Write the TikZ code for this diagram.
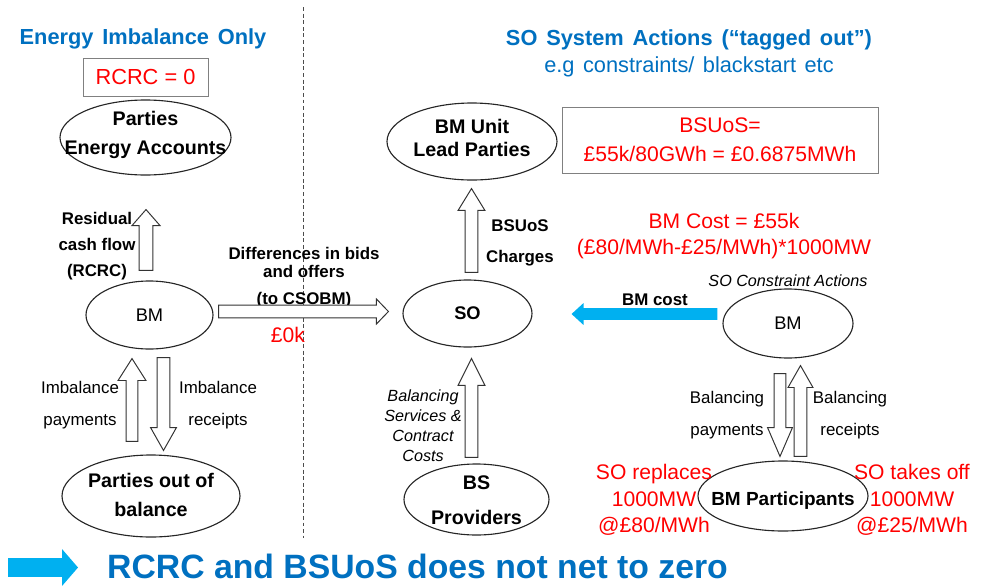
\documentclass[tikz,border=0pt]{standalone}
\usepackage{fontspec}
\setmainfont{Liberation Sans}
\usetikzlibrary{shapes.geometric,calc}

\definecolor{hdrblue}{RGB}{0,112,192}
\definecolor{arrcyan}{RGB}{0,176,240}
\definecolor{rcred}{RGB}{255,0,0}

\newcommand{\fs}[2]{\fontsize{#1}{#2}\selectfont}
% text inside an ellipse, kept out of the ellipse size
\newcommand{\ctr}[2][0pt]{\makebox[0pt]{\smash{\raisebox{#1}{\begin{tabular}{@{}c@{}}#2\end{tabular}}}}}
% block arrow: [style]{tail}{tip}{head length}{shaft half width}{head half width}, sizes in px
\newcommand{\blockarrow}[6][]{%
  \draw[blk,#1] let \p1=(#2), \p2=(#3),
      \n1={atan2(\y2-\y1,\x2-\x1)},
      \n2={veclen(\x2-\x1,\y2-\y1)-#4*0.70866pt} in
    (\p1) ++(\n1+90:#5*0.70866pt) -- ++(\n1:\n2)
    -- ++(\n1+90:#6*0.70866pt-#5*0.70866pt) -- (\p2)
    -- ($(\p1)+(\n1:\n2)+(\n1-90:#6*0.70866pt)$)
    -- ++(\n1+90:#6*0.70866pt-#5*0.70866pt)
    -- ($(\p1)+(\n1-90:#5*0.70866pt)$) -- cycle;}

\tikzset{
  bubble/.style 2 args={ellipse, draw=black!85, line width=0.8pt, inner sep=0pt,
    minimum width={#1*0.025cm}, minimum height={#2*0.025cm}},
  hdr/.style={anchor=base, text=hdrblue, font={\fs{15.5}{18}\bfseries\spaceskip=6.3pt plus 1pt\relax}},
  redbox/.style={draw=black!50, line width=0.7pt, text=rcred, align=center, inner sep=0pt},
  txtred/.style={text=rcred, font={\fs{15}{18.8}}, align=center},
  txtbold/.style={font={\fs{12}{18.4}\bfseries}, align=center},
  txtnorm/.style={font={\fs{12}{22.5}}, align=center},
  txtital/.style={font={\fs{11.5}{14.2}\itshape}, align=center},
  blk/.style={draw=black!80, fill=white, line width=0.7pt, line join=miter},
  cyanblk/.style={fill=arrcyan, draw=none},
}

\begin{document}
\begin{tikzpicture}[x=0.025cm, y=-0.025cm]
\useasboundingbox (0,0) rectangle (981,587);

% divider
\draw[black!70, line width=0.7pt, dash pattern=on 2.8pt off 1.9pt] (303,7) -- (303,538);

% energy imbalance side
\node[hdr] (hdrL) at (143,44) {Energy Imbalance Only};
\node[redbox, minimum width={125*0.025cm}, minimum height={38*0.025cm}, font={\fs{15.5}{18}}] (rcrc) at (145.5,77) {RCRC = 0};
\node[bubble={171}{75}, font={\fs{14}{20.5}\bfseries}] (pea) at (145.5,137.5) {\ctr[-1.4pt]{Parties\\Energy Accounts}};
\node[bubble={127}{68}, font={\fs{13}{16}}] (bmL) at (149.5,315) {BM};
\node[bubble={178}{82}, font={\fs{14}{20.5}\bfseries}] (pob) at (151,496) {\ctr[-3.5pt]{Parties out of\\balance}};

\node[txtbold] (resid) at (97,246) {Residual\\cash flow\\(RCRC)};
\node[txtbold, font={\fs{12}{12.5}\bfseries}] (diff) at (304,278) {Differences in bids\\and offers\\[7pt](to CSOBM)};
\node[txtred, anchor=base] (zero) at (288,342) {£0k};
\node[txtnorm] (imbP) at (80,405) {Imbalance\\payments};
\node[txtnorm] (imbR) at (218,405) {Imbalance\\receipts};

\blockarrow{$(bmL.north)+(-3.5,-10)$}{$(pea.south)+(0.5,34)$}{16}{7}{14}
\blockarrow{$(pob.north)+(-19,-13)$}{$(bmL.south)+(-17.5,9)$}{22}{6}{14}
\blockarrow{$(bmL.south)+(14,8)$}{$(pob.north)+(12.5,-4)$}{23}{6.5}{13}

% system actions side
\node[hdr] (hdrR) at (689,45) {SO System Actions (“tagged out”)};
\node[hdr, font={\fs{15.5}{18}\spaceskip=6pt plus 1pt\relax}] (subR) at (689,72) {e.g constraints/ blackstart etc};
\node[bubble={170}{77}, font={\fs{14}{16.3}\bfseries}] (bmu) at (472,141.5) {\ctr[-2.8pt]{BM Unit\\Lead Parties}};
\node[redbox, minimum width={316*0.025cm}, minimum height={66*0.025cm}, font={\fs{15}{20.5}}] (bsuos) at (720,140) {BSUoS=\\£55k/80GWh = £0.6875MWh};
\node[bubble={129}{67}, font={\fs{13}{16}\bfseries}] (so) at (467.5,313.5) {SO};
\node[bubble={145}{71}, font={\fs{14}{24.8}\bfseries}] (bsp) at (476.5,499.5) {\ctr[-4.2pt]{BS\\Providers}};
\node[bubble={130}{69}, font={\fs{13}{16}}] (bmR) at (788,323.5) {BM};
\node[bubble={170}{70}, font={\fs{13.5}{16}\bfseries}] (bmp) at (783,496) {\makebox[0pt]{\smash{\raisebox{-6.4pt}{BM Participants}}}};

\node[txtbold, font={\fs{12}{22}\bfseries}] (chg) at (520,243) {BSUoS\\Charges};
\node[txtred, font={\fs{15}{18.4}}] (cost) at (724,236) {BM Cost = £55k\\(£80/MWh-£25/MWh)*1000MW};
\node[txtbold, anchor=base] (costlbl) at (655,305) {BM cost};
\node[txtital, anchor=base] (soca) at (788,286) {SO Constraint Actions};
\node[txtital] (bsc) at (423,426) {Balancing\\Services \&\\Contract\\Costs};
\node[txtnorm] (balP) at (727,415) {Balancing\\payments};
\node[txtnorm] (balR) at (850,415) {Balancing\\receipts};
\node[txtred] (sorep) at (654,500) {SO replaces\\1000MW\\@£80/MWh};
\node[txtred] (sotake) at (912,500) {SO takes off\\1000MW\\@£25/MWh};

\blockarrow{$(bmL.east)+(5,-3.5)$}{$(so.west)+(-14,-2)$}{12}{6.5}{12.5}
\blockarrow{$(so.north)+(4,-7)$}{$(bmu.south)+(-0.5,8)$}{22}{6.5}{13.5}
\blockarrow{$(bsp.north)+(-5,-6)$}{$(so.south)+(4,11)$}{27}{6.5}{13.5}
\blockarrow[cyanblk]{$(bmR.west)+(-5,-9.5)$}{$(so.east)+(39,0.5)$}{12}{6}{11}
\blockarrow{$(bmR.south)+(-8,15)$}{$(bmp.north)+(-3,-4)$}{29}{6}{12.5}
\blockarrow{$(bmp.north)+(17.5,-4)$}{$(bmR.south)+(12.5,7)$}{22}{6.5}{12.5}

% conclusion
\coordinate (cueA) at (8,567.5);
\coordinate (cueB) at (78,567.5);
\blockarrow[cyanblk]{cueA}{cueB}{16}{9.5}{18.5}
\node[anchor=base, text=hdrblue, font={\fs{24}{28}\bfseries}] (concl) at (417.5,578) {RCRC and BSUoS does not net to zero};
\end{tikzpicture}
\end{document}
